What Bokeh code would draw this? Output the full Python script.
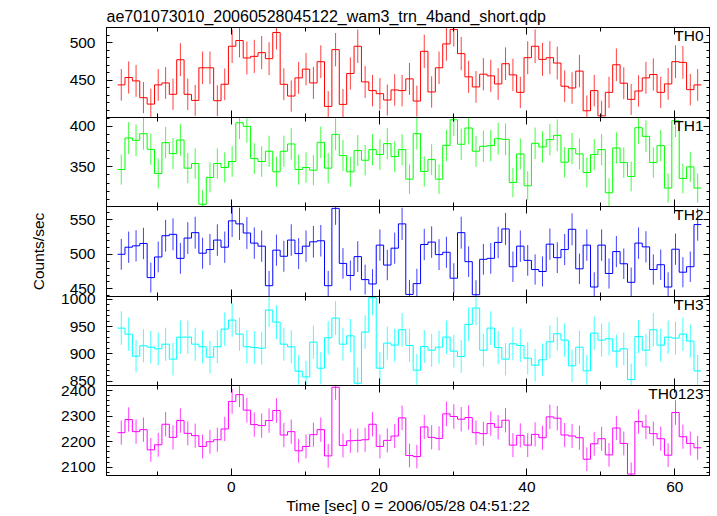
import numpy as np
from bokeh.plotting import figure
from bokeh.layouts import column
from bokeh.models import Range1d, LinearAxis, SingleIntervalTicker, Label, Title
from bokeh.embed import file_html
from bokeh.resources import INLINE

TITLE = "ae701073010_20060528045122_wam3_trn_4band_short.qdp"
XLABEL = "Time [sec] 0 = 2006/05/28 04:51:22"
YLABEL = "Counts/sec"

# 1-s light-curve bins (centre of first bin, bin width in seconds)
BIN_START = -14.9
BIN_WIDTH = 1.0

BANDS = ["TH0", "TH1", "TH2", "TH3", "TH0123"]

TH0 = [443.8, 453.6, 449.1, 426.8, 418.3, 443.8, 446.4, 431.3, 477.2, 431.3,
       423.2, 466.5, 466.5, 422.8, 444.6, 495.1, 502.7, 479.5, 481.7, 486.6,
       478.6, 513.4, 444.6, 429.0, 453.1, 464.7, 446.4, 474.6, 415.2, 490.6,
       417.9, 458.9, 495.1, 447.8, 436.2, 432.1, 423.7, 437.1, 436.2, 451.8,
       422.3, 488.4, 434.4, 466.5, 498.2, 517.4, 485.3, 454.5, 441.1, 458.0,
       455.8, 445.1, 471.9, 457.1, 433.9, 479.9, 495.1, 477.7, 479.9, 472.8,
       442.0, 439.7, 462.1, 409.4, 436.2, 402.7, 433.9, 470.5, 446.0, 424.6,
       435.7, 453.1, 457.6, 433.9, 445.1, 474.6, 473.7, 437.5, 443.8]

TH1 = [346.7, 385.7, 382.8, 391.0, 371.7, 341.8, 379.9, 366.4, 383.2, 348.4,
       354.1, 303.7, 336.9, 354.1, 349.2, 356.6, 404.5, 400.0, 360.2, 356.6,
       369.3, 343.9, 369.3, 378.3, 346.7, 349.2, 345.9, 380.3, 348.4, 390.2,
       363.9, 343.9, 370.1, 358.2, 371.3, 365.2, 378.7, 362.7, 371.3, 334.8,
       391.0, 344.3, 359.0, 334.8, 376.6, 408.2, 377.9, 398.0, 369.3, 375.4,
       376.2, 384.8, 384.0, 330.7, 366.0, 326.6, 379.1, 374.6, 383.6, 388.9,
       355.7, 372.5, 366.0, 343.0, 365.2, 371.3, 318.0, 373.4, 355.3, 338.1,
       398.4, 387.7, 355.3, 376.2, 323.8, 407.0, 335.7, 350.0, 323.8]

TH2 = [500.0, 510.2, 512.2, 515.6, 466.3, 496.1, 526.8, 528.8, 494.1, 523.4,
       531.2, 501.5, 506.8, 520.5, 510.2, 548.3, 543.9, 530.7, 516.1, 511.7,
       454.6, 505.9, 497.1, 520.5, 501.0, 511.7, 518.0, 519.5, 454.6, 566.3,
       486.8, 469.3, 496.6, 463.4, 457.1, 513.2, 484.4, 508.8, 543.9, 442.0,
       457.6, 514.1, 517.6, 499.5, 502.9, 465.4, 531.2, 489.3, 441.5, 492.7,
       494.1, 517.1, 536.6, 482.0, 511.7, 491.2, 478.0, 475.1, 514.6, 495.1,
       506.8, 536.1, 479.0, 513.2, 452.7, 513.2, 472.2, 503.9, 486.3, 459.5,
       516.1, 510.7, 478.0, 484.9, 452.7, 507.3, 474.1, 482.0, 542.9]

TH3 = [947.1, 936.1, 895.7, 914.7, 912.2, 909.2, 917.7, 890.2, 930.6, 930.6,
       917.7, 912.9, 893.9, 912.9, 945.3, 961.8, 936.1, 912.9, 911.6, 910.4,
       980.2, 958.1, 917.7, 912.9, 868.2, 857.8, 921.4, 873.7, 929.4, 965.5,
       917.7, 933.0, 846.1, 939.8, 1002.8, 873.7, 919.6, 915.9, 944.1, 915.3,
       870.0, 913.5, 906.7, 912.2, 930.6, 904.9, 895.1, 953.9, 983.8, 906.7,
       947.1, 911.6, 890.2, 918.4, 915.3, 892.0, 879.2, 889.0, 922.0, 936.7,
       925.1, 878.0, 912.2, 868.8, 937.9, 925.1, 927.5, 904.9, 909.2, 852.9,
       931.8, 906.7, 944.1, 915.9, 930.6, 928.8, 936.1, 923.3, 868.8]

TH0123 = [2235.5, 2286.8, 2239.5, 2247.4, 2168.4, 2188.2, 2268.4, 2217.1, 2282.9, 2232.9,
          2223.7, 2181.6, 2200.0, 2207.9, 2250.0, 2357.9, 2384.2, 2323.7, 2267.1, 2263.2,
          2282.9, 2322.4, 2226.3, 2239.5, 2164.5, 2181.6, 2227.6, 2247.4, 2144.7, 2413.2,
          2185.5, 2203.9, 2205.3, 2207.9, 2268.4, 2181.6, 2205.3, 2222.4, 2293.4, 2146.1,
          2142.1, 2257.9, 2217.1, 2213.2, 2309.2, 2298.7, 2288.2, 2294.7, 2235.5, 2231.6,
          2271.1, 2256.6, 2284.2, 2186.8, 2225.0, 2186.8, 2228.9, 2215.8, 2297.4, 2292.1,
          2226.3, 2222.4, 2215.8, 2131.6, 2192.1, 2211.8, 2148.7, 2253.9, 2193.4, 2073.7,
          2278.9, 2257.9, 2231.6, 2211.8, 2147.4, 2314.5, 2219.7, 2193.4, 2176.3]

SERIES = [TH0, TH1, TH2, TH3, TH0123]
COLORS = ["#ff0000", "#00ff00", "#0000ff", "#00ffff", "#ff00ff"]
YRANGES = [(400.5, 520), (301, 411), (439, 569), (842, 1005), (2068, 2420)]
YMAJOR = [50, 50, 50, 50, 100]
XRANGE = (-16.9, 64.7)

FONT = "Liberation Sans"
FS = "15.5px"
FRAME_H = [90, 89, 90, 89, 90]
GAP = 10  # transparent border around middle frames; canvases overlap by 2*GAP

x_range = Range1d(*XRANGE)


def style_axis(ax, major_in, minor_in, show_labels):
    ax.axis_line_color = "black"
    ax.axis_line_width = 1
    ax.major_tick_line_color = "black"
    ax.minor_tick_line_color = "black"
    ax.major_tick_in = major_in
    ax.major_tick_out = 0
    ax.minor_tick_in = minor_in
    ax.minor_tick_out = 0
    ax.axis_label_text_color = "black"
    if show_labels:
        ax.major_label_text_font = FONT
        ax.major_label_text_font_size = FS
        ax.major_label_text_color = "black"
    else:
        ax.major_label_text_font_size = "0px"
        ax.major_label_text_alpha = 0
        ax.major_label_standoff = 0


figs = []
n = len(SERIES)
for k in range(n):
    vals = np.array(SERIES[k], dtype=float)
    t = BIN_START + BIN_WIDTH * np.arange(len(vals))
    edges = np.append(t - BIN_WIDTH / 2, t[-1] + BIN_WIDTH / 2)
    ystep = np.append(vals, vals[-1])
    err = np.sqrt(vals * BIN_WIDTH) / BIN_WIDTH  # Poisson error of 1-s counts

    first = (k == 0)
    last = (k == n - 1)
    p = figure(frame_width=603, frame_height=FRAME_H[k],
               x_range=x_range, y_range=Range1d(*YRANGES[k]),
               x_axis_type=None, y_axis_type=None,
               output_backend="svg", toolbar_location=None,
               min_border_left=106, min_border_right=2,
               min_border_top=27 if first else GAP,
               min_border_bottom=GAP,
               margin=(0, 0, 0, 0) if first else (-2 * GAP, 0, 0, 0))
    p.outline_line_color = "black"
    p.outline_line_width = 1
    p.background_fill_color = "white"
    p.border_fill_alpha = 0

    xt = SingleIntervalTicker(interval=20, num_minor_ticks=2)
    yt = SingleIntervalTicker(interval=YMAJOR[k], num_minor_ticks=5)

    bottom = LinearAxis(ticker=xt)
    style_axis(bottom, 7, 4, last)
    top = LinearAxis(ticker=xt)
    style_axis(top, 7, 4, False)
    left = LinearAxis(ticker=yt)
    style_axis(left, 6, 3, True)
    left.major_label_standoff = 11
    right = LinearAxis(ticker=yt)
    style_axis(right, 6, 3, False)

    if last:
        bottom.major_label_standoff = 6
        bottom.axis_label = XLABEL
        bottom.axis_label_text_font = FONT
        bottom.axis_label_text_font_size = FS
        bottom.axis_label_text_font_style = "normal"
        bottom.axis_label_standoff = 2
    if k == 2:
        left.axis_label = YLABEL
        left.axis_label_text_font = FONT
        left.axis_label_text_font_size = FS
        left.axis_label_text_font_style = "normal"
        left.axis_label_standoff = 20

    p.add_layout(bottom, "below")
    p.add_layout(top, "above")
    p.add_layout(left, "left")
    p.add_layout(right, "right")

    if first:
        p.title = Title(text=TITLE, align="left", text_font=FONT,
                        text_font_size="16px", text_font_style="normal",
                        text_color="black", standoff=5)

    p.segment(x0=t, y0=vals - err, x1=t, y1=vals + err,
              line_color=COLORS[k], line_width=1, line_alpha=0.75)
    p.step(edges, ystep, mode="after", line_color=COLORS[k], line_width=1)

    p.add_layout(Label(x=XRANGE[1], y=YRANGES[k][1], x_offset=-6, y_offset=1,
                       text=BANDS[k], text_align="right", text_baseline="top",
                       text_font=FONT, text_font_size=FS, text_color="black"))
    figs.append(p)

layout = column(*figs, spacing=0)
open("out.html", "w").write(file_html(layout, INLINE))
